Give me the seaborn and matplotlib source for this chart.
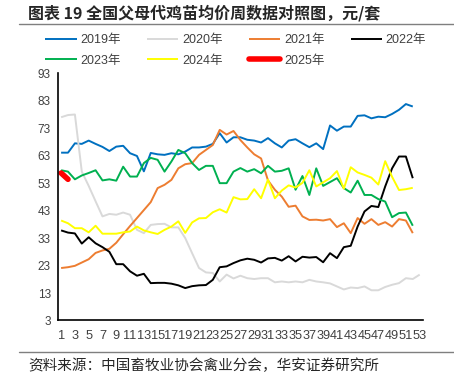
import numpy as np
import pandas as pd
import matplotlib
matplotlib.use("Agg")
import matplotlib.pyplot as plt
import seaborn as sns

# --- weekly prices, yuan per set ---
y2019 = [64.1, 64.1, 67.5, 67.3, 68.5, 67.3, 66.2, 64.7, 66.3, 66.6, 63.9, 62.9, 57.3,
         64.0, 63.5, 63.3, 63.9, 63.5, 64.5, 66.0, 66.0, 66.3, 67.3, 71.2, 67.8, 69.7,
         69.7, 68.8, 68.5, 67.8, 69.4, 67.5, 66.0, 68.5, 69.0, 67.5, 66.1, 67.5, 65.4,
         74.0, 72.1, 73.6, 73.6, 77.5, 77.7, 76.6, 77.2, 77.0, 78.2, 79.7, 81.8, 80.9]
y2020 = [77.0, 77.8, 78.0, 57.2, 52.0, 46.4, 40.9, 41.8, 41.5, 42.3, 41.5, 36.0, 34.8,
         37.8, 38.1, 38.2, 36.9, 36.9, 33.0, 27.5, 22.1, 20.5, 20.3, 17.2, 19.7, 18.3,
         19.3, 18.4, 18.1, 18.4, 18.4, 16.9, 17.2, 16.9, 17.2, 16.9, 17.8, 17.2, 16.9,
         16.5, 15.4, 14.3, 15.0, 14.8, 15.4, 14.0, 14.0, 15.2, 16.0, 16.6, 18.4, 18.1, 19.7]
y2021 = [22.1, 22.4, 22.9, 24.1, 25.3, 27.6, 28.5, 29.1, 31.3, 34.4, 37.4, 40.3, 43.2,
         46.1, 51.2, 52.4, 54.2, 58.4, 59.9, 60.3, 63.3, 65.1, 66.9, 72.4, 70.7, 72.0,
         68.7, 66.0, 63.5, 62.0, 54.0, 50.6, 48.1, 44.4, 44.8, 40.9, 39.6, 39.7, 39.4,
         39.9, 37.0, 38.4, 34.8, 40.3, 38.2, 39.9, 37.8, 38.8, 37.2, 39.9, 39.4, 34.8]
y2022 = [35.8, 35.0, 34.7, 31.0, 33.3, 31.1, 29.7, 28.0, 23.5, 23.5, 20.9, 19.3, 20.0,
         16.6, 16.7, 16.7, 16.4, 15.8, 14.8, 15.5, 15.8, 15.9, 17.8, 22.4, 22.7, 23.9,
         24.9, 25.5, 25.1, 24.1, 25.6, 25.8, 24.8, 26.4, 24.5, 26.2, 25.9, 26.1, 24.2,
         27.5, 25.7, 29.7, 30.2, 37.2, 42.7, 44.7, 44.3, 51.8, 58.4, 62.7, 62.7, 54.8]
y2023 = [57.7, 57.2, 54.4, 55.8, 56.7, 57.7, 54.0, 54.4, 53.9, 59.0, 55.4, 55.4, 60.3,
         62.2, 61.5, 57.2, 60.9, 65.1, 63.9, 60.3, 57.8, 59.3, 59.3, 53.0, 53.0, 57.2,
         58.5, 57.2, 58.1, 56.6, 59.3, 57.2, 57.5, 58.4, 50.6, 55.6, 48.7, 58.4, 52.0,
         53.4, 54.8, 51.2, 49.6, 53.9, 48.7, 48.7, 47.2, 46.3, 40.6, 42.1, 42.3, 37.5]
y2024 = [39.4, 38.4, 36.6, 36.6, 35.1, 37.5, 34.6, 34.6, 34.6, 35.1, 35.4, 37.2, 35.8,
         35.1, 34.5, 36.0, 37.2, 39.1, 34.9, 38.7, 40.2, 40.3, 42.4, 43.5, 42.3, 47.9,
         47.1, 47.2, 50.8, 47.5, 54.3, 47.5, 50.3, 52.2, 51.4, 53.1, 57.7, 51.8, 53.3,
         54.8, 57.4, 51.0, 58.8, 56.9, 56.0, 55.0, 52.5, 61.0, 55.3, 50.5, 50.8, 51.3]
y2025 = [56.7, 54.4]

years = ['2019年', '2020年', '2021年', '2022年', '2023年', '2024年', '2025年']
series = [y2019, y2020, y2021, y2022, y2023, y2024, y2025]
colors = ['#0070C0', '#D9D9D9', '#ED7D31', '#000000', '#00B050', '#FFFF00', '#FF0000']
widths = [1.4, 1.4, 1.4, 1.4, 1.4, 1.4, 4.0]

sns.set_style('white')
plt.rcParams['font.family'] = ['Liberation Sans', 'Noto Sans CJK SC', 'DejaVu Sans']

fig = plt.figure(figsize=(4.54, 3.79), dpi=100)
ax = fig.add_axes([0.127, 0.1544, 0.805, 0.6522])

for name, vals, c, lw in zip(years, series, colors, widths):
    weeks = np.arange(1, len(vals) + 1)
    sns.lineplot(x=weeks, y=vals, color=c, linewidth=lw, label=name, ax=ax,
                 solid_capstyle='round' if lw > 2 else 'butt')

ax.set_xlim(0.5, 53.5)
ax.set_ylim(3, 93)
ax.set_yticks(np.arange(3, 94, 10))
ax.set_xticks(np.arange(1, 54, 2))
ax.tick_params(axis='y', length=0, labelsize=8.5, colors='#404040', pad=5)
ax.tick_params(axis='x', length=0, labelsize=9.2, colors='#404040', pad=7)
ax.set_xlabel('')
ax.set_ylabel('')
for s in ['top', 'right']:
    ax.spines[s].set_visible(False)
for s in ['left', 'bottom']:
    ax.spines[s].set_color('#000000')
    ax.spines[s].set_linewidth(1.2)

# legend reads row by row in the reference; matplotlib fills by column
handles, labels = ax.get_legend_handles_labels()
ax.get_legend().remove()
order = [0, 4, 1, 5, 2, 6, 3]
fig.legend([handles[i] for i in order], [labels[i] for i in order], ncol=4,
           loc='upper left', bbox_to_anchor=(0.1, 0.91),
           frameon=False, fontsize=9, handlelength=2.5, handletextpad=0.3,
           columnspacing=2.1, labelspacing=0.7, borderaxespad=0, borderpad=0,
           labelcolor='#404040')

fig.text(0.062, 0.966, '图表 19 全国父母代鸡苗均价周数据对照图，元/套', fontsize=11.5,
         fontweight='bold', family=['Noto Sans CJK SC'], va='center', ha='left')
fig.add_artist(plt.Line2D([0.042, 1.0], [0.936, 0.936], color='#7F7F7F', lw=1.0))
fig.add_artist(plt.Line2D([0.042, 1.0], [0.072, 0.072], color='#7F7F7F', lw=1.0))
fig.text(0.062, 0.034, '资料来源：中国畜牧业协会禽业分会，华安证券研究所', fontsize=10.5,
         family=['Noto Sans CJK SC'], fontweight='light', color='#262626',
         va='center', ha='left')

plt.savefig('out.png', dpi=100)
